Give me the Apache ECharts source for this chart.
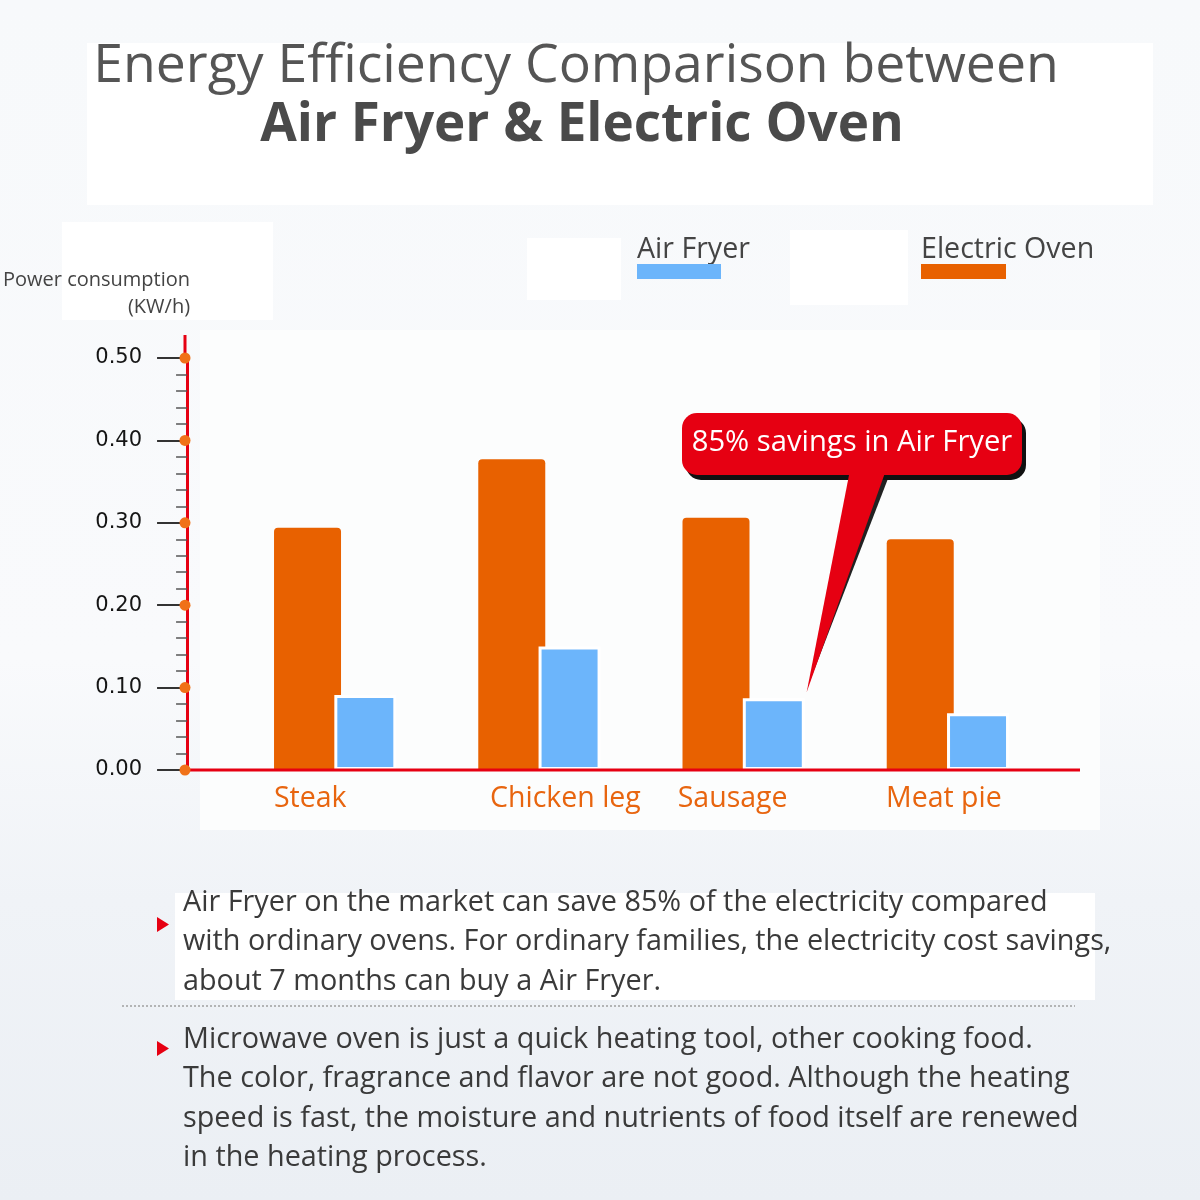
<!DOCTYPE html>
<html>
<head>
<meta charset="utf-8">
<script src="https://cdn.jsdelivr.net/npm/echarts@6/dist/echarts.min.js"></script>
<style>
html,body{margin:0;padding:0;}
#wrap{position:relative;width:1200px;height:1200px;overflow:hidden;
 background:linear-gradient(180deg,#f7f9fb 0%,#f9fafc 55%,#f0f3f7 75%,#ebeff4 100%);}
.p{position:absolute;background:#ffffff;}
#chart{position:absolute;left:0;top:0;width:1200px;height:1200px;}
</style>
</head>
<body>
<div id="wrap">
  <div class="p" style="left:87px;top:43px;width:1066px;height:162px"></div>
  <div class="p" style="left:62px;top:222px;width:211px;height:98px"></div>
  <div class="p" style="left:527px;top:238px;width:94px;height:62px"></div>
  <div class="p" style="left:790px;top:230px;width:118px;height:75px"></div>
  <div class="p" style="left:200px;top:330px;width:900px;height:500px;background:#fcfdfd"></div>
  <div class="p" style="left:175px;top:893px;width:920px;height:107px"></div>
  <div id="chart"></div>
</div>
<script>
// ---------- data ----------
const categories = ['Steak', 'Chicken leg', 'Sausage', 'Meat pie'];
const ovenValues = [0.294, 0.377, 0.306, 0.280];
const airFryerValues = [0.091, 0.150, 0.087, 0.069];
const seriesNames = ['Air Fryer', 'Electric Oven'];
const yTickValues = [0, 0.1, 0.2, 0.3, 0.4, 0.5];
const yAxisName = ['Power consumption', '(KW/h)'];
const titleLines = ['Energy Efficiency Comparison between', 'Air Fryer & Electric Oven'];
const calloutText = '85% savings in Air Fryer';
const note1Lines = [
  'Air Fryer on the market can save 85% of the electricity compared',
  'with ordinary ovens. For ordinary families, the electricity cost savings,',
  'about 7 months can buy a Air Fryer.'
];
const note2Lines = [
  'Microwave oven is just a quick heating tool, other cooking food.',
  'The color, fragrance and flavor are not good. Although the heating',
  'speed is fast, the moisture and nutrients of food itself are renewed',
  'in the heating process.'
];

// ---------- style ----------
const OVEN = '#e86100';
const AIR = '#6cb5fb';
const RED = '#e60012';
const DOT = '#f07118';
const FONT = '"Open Sans", "Noto Sans", sans-serif';
const GRID_LEFT = 231, GRID_RIGHT = 150, GRID_TOP = 358, GRID_BOTTOM = 430;
const Y_OFFSET = 46;
// horizontal nudges of the category labels (px, negative = left)
const LABEL_SHIFT = [-25, 26, -11, -4];
const labelRich = {};
LABEL_SHIFT.forEach((s, i) => {
  labelRich['c' + i] = {
    color: '#e8650f', fontSize: 28.5, fontFamily: FONT,
    padding: s < 0 ? [0, -2 * s, 0, 0] : [0, 0, 0, 2 * s]
  };
});

const chart = echarts.init(document.getElementById('chart'), null, {renderer: 'canvas'});

chart.setOption({
  backgroundColor: 'transparent',
  animation: false,
  grid: {left: GRID_LEFT, right: GRID_RIGHT, top: GRID_TOP, bottom: GRID_BOTTOM},
  xAxis: {
    type: 'category',
    data: categories,
    axisLine: {show: false},
    axisTick: {show: false},
    axisLabel: {
      interval: 0, hideOverlap: false,
      color: '#e8650f', fontSize: 28.5, fontFamily: FONT, margin: 14,
      formatter: (v, i) => '{c' + i + '|' + v + '}',
      rich: labelRich
    }
  },
  yAxis: {
    type: 'value',
    min: 0, max: 0.5, interval: 0.1,
    offset: Y_OFFSET,
    name: yAxisName.join('\n'),
    nameLocation: 'end',
    nameGap: 37,
    nameTextStyle: {align: 'right', fontSize: 20, lineHeight: 27, color: '#444', fontFamily: FONT, padding: [0, -3, 0, 0]},
    axisLine: {show: true, lineStyle: {color: RED, width: 3}},
    axisTick: {show: true, length: 30, lineStyle: {color: '#333', width: 2}},
    minorTick: {show: true, splitNumber: 5, length: 11, lineStyle: {color: '#555', width: 1.5}},
    splitLine: {show: false},
    minorSplitLine: {show: false},
    axisLabel: {formatter: v => v.toFixed(2), fontSize: 21, color: '#151515', fontFamily: '"DejaVu Sans", sans-serif', margin: 45}
  },
  series: [
    {
      name: seriesNames[1], type: 'bar', data: ovenValues,
      barWidth: 67, barGap: '-10%',
      itemStyle: {color: OVEN, borderRadius: [4, 4, 0, 0]}
    },
    {
      name: seriesNames[0], type: 'bar', data: airFryerValues,
      barWidth: 62, barGap: '-10%', z: 3,
      itemStyle: {color: AIR, borderColor: '#ffffff', borderWidth: 3}
    }
  ]
});

// ---------- decorations anchored through the chart's scales ----------
const yPix = v => chart.convertToPixel({yAxisIndex: 0}, v);
const xPix = c => chart.convertToPixel({xAxisIndex: 0}, c);
const axisX = GRID_LEFT - Y_OFFSET;
const y0 = yPix(0);
const yTop = yPix(0.5);

const graphics = [];
graphics.push({type: 'line', z: 50, shape: {x1: axisX, y1: y0, x2: 1080, y2: y0}, style: {stroke: RED, lineWidth: 3}});
graphics.push({type: 'line', z: 50, shape: {x1: axisX, y1: yTop, x2: axisX, y2: yTop - 23}, style: {stroke: RED, lineWidth: 3}});
yTickValues.forEach(v => {
  graphics.push({type: 'circle', z: 60, shape: {cx: axisX, cy: yPix(v), r: 5.5}, style: {fill: DOT}});
});

// title
graphics.push({type: 'text', z: 60, x: 576, y: 67, style: {text: titleLines[0], fontSize: 53.5, fontFamily: FONT, fill: '#555', align: 'center', verticalAlign: 'middle'}});
graphics.push({type: 'text', z: 60, x: 582, y: 126, style: {text: titleLines[1], fontSize: 53, fontWeight: 'bold', fontFamily: FONT, fill: '#4a4a4a', align: 'center', verticalAlign: 'middle'}});

// legend (text above swatch)
graphics.push({type: 'text', z: 60, x: 637, y: 250, style: {text: seriesNames[0], fontSize: 28.6, fontFamily: FONT, fill: '#444', align: 'left', verticalAlign: 'middle'}});
graphics.push({type: 'rect', z: 60, shape: {x: 637, y: 264, width: 84, height: 15}, style: {fill: AIR}});
graphics.push({type: 'text', z: 60, x: 921, y: 250, style: {text: seriesNames[1], fontSize: 28.6, fontFamily: FONT, fill: '#444', align: 'left', verticalAlign: 'middle'}});
graphics.push({type: 'rect', z: 60, shape: {x: 921, y: 264, width: 85, height: 15}, style: {fill: OVEN}});

// callout pointing at sausage air fryer bar
const sx = xPix(categories[2]);
const tipX = sx + 63, tipY = yPix(airFryerValues[2]) - 6;
graphics.push({type: 'polygon', z: 70, shape: {points: [[889, 476], [860, 476], [tipX + 2, tipY - 8]]}, style: {fill: '#222'}});
graphics.push({type: 'rect', z: 71, shape: {x: 686, y: 418, width: 340, height: 62, r: 15}, style: {fill: '#111'}});
graphics.push({type: 'rect', z: 72, shape: {x: 682, y: 413, width: 340, height: 62, r: 15}, style: {fill: RED}});
graphics.push({type: 'polygon', z: 72, shape: {points: [[850, 470], [886, 470], [tipX, tipY]]}, style: {fill: RED}});
graphics.push({type: 'text', z: 73, x: 852, y: 443, style: {text: calloutText, fontSize: 29.2, fontFamily: FONT, fill: '#fff', align: 'center', verticalAlign: 'middle'}});

// notes
graphics.push({type: 'polygon', z: 60, shape: {points: [[157, 917], [169, 924.5], [157, 932]]}, style: {fill: RED}});
graphics.push({type: 'text', z: 60, x: 183, y: 883, style: {text: note1Lines.join('\n'), fontSize: 28.8, lineHeight: 39.5, fontFamily: FONT, fill: '#3a3a3a', align: 'left', verticalAlign: 'top'}});
graphics.push({type: 'line', z: 60, shape: {x1: 122, y1: 1006, x2: 1075, y2: 1006}, style: {stroke: '#a0a0a0', lineWidth: 1.5, lineDash: [2, 2]}});
graphics.push({type: 'polygon', z: 60, shape: {points: [[157, 1041], [169, 1048.5], [157, 1056]]}, style: {fill: RED}});
graphics.push({type: 'text', z: 60, x: 183, y: 1020, style: {text: note2Lines.join('\n'), fontSize: 28.8, lineHeight: 39.5, fontFamily: FONT, fill: '#3a3a3a', align: 'left', verticalAlign: 'top'}});

chart.setOption({graphic: {elements: graphics}});
</script>
</body>
</html>
